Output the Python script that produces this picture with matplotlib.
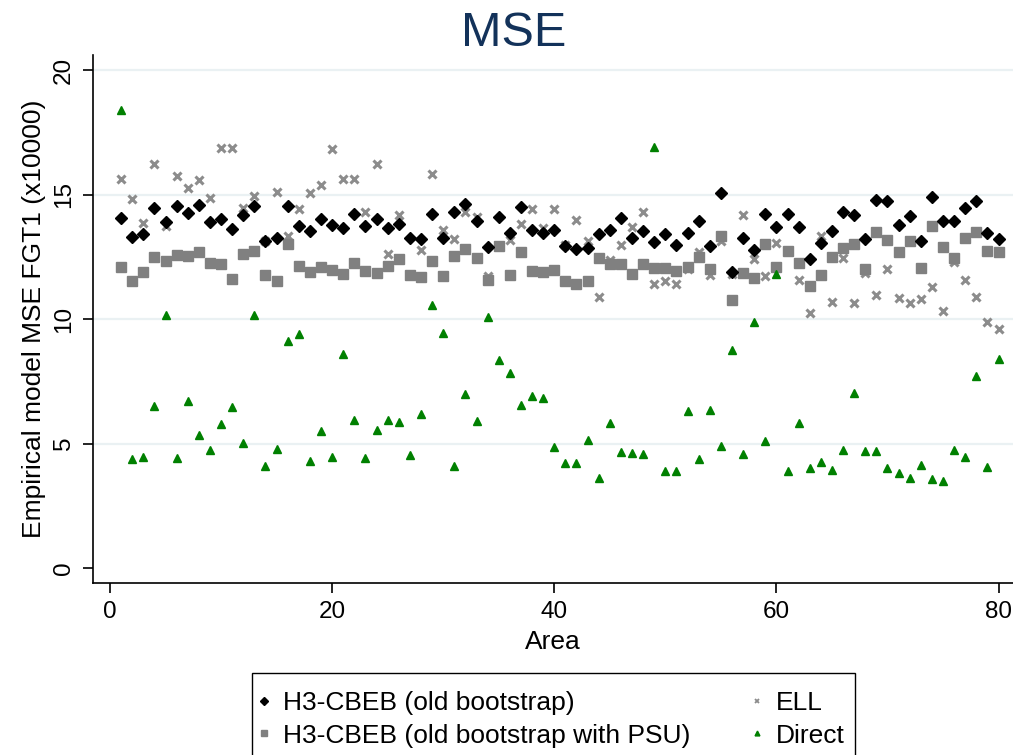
import numpy as np
import matplotlib
matplotlib.use("Agg")
import matplotlib.pyplot as plt
from matplotlib.patches import Rectangle

plt.rcParams['font.family'] = ['Liberation Sans', 'DejaVu Sans']

area = np.arange(1, 81)

# H3-CBEB (old bootstrap)
cbeb = [14.07, 13.28, 13.41, 14.48, 13.88, 14.54, 14.26, 14.58, 13.88, 14.03,
        13.63, 14.19, 14.54, 13.15, 13.24, 14.54, 13.75, 13.52, 14.03, 13.77,
        13.64, 14.23, 13.72, 14.00, 13.67, 13.81, 13.24, 13.21, 14.22, 13.27,
        14.31, 14.62, 13.95, 12.89, 14.08, 13.45, 14.50, 13.57, 13.45, 13.59,
        12.95, 12.83, 12.84, 13.43, 13.56, 14.04, 13.25, 13.55, 13.08, 13.40,
        12.99, 13.45, 13.95, 12.92, 15.08, 11.88, 13.24, 12.77, 14.20, 13.68,
        14.22, 13.71, 12.41, 13.04, 13.52, 14.28, 14.17, 13.21, 14.78, 14.75,
        13.77, 14.15, 13.15, 14.92, 13.93, 13.93, 14.47, 14.74, 13.47, 13.21]

# H3-CBEB (old bootstrap with PSU)
cbeb_psu = [12.09, 11.53, 11.89, 12.49, 12.33, 12.57, 12.53, 12.69, 12.26, 12.21,
            11.61, 12.61, 12.73, 11.77, 11.54, 13.01, 12.13, 11.89, 12.09, 11.97,
            11.81, 12.25, 11.92, 11.86, 12.13, 12.41, 11.77, 11.70, 12.33, 11.73,
            12.53, 12.81, 12.45, 11.58, 12.95, 11.77, 12.69, 11.93, 11.89, 11.97,
            11.53, 11.41, 11.53, 12.45, 12.22, 12.22, 11.80, 12.21, 12.05, 12.05,
            11.93, 12.09, 12.51, 12.01, 13.35, 10.78, 11.85, 11.65, 13.03, 12.09,
            12.75, 12.25, 11.34, 11.77, 12.49, 12.87, 13.03, 12.02, 13.51, 13.19,
            12.71, 13.15, 12.05, 13.75, 12.91, 12.46, 13.25, 13.51, 12.73, 12.71]

# ELL
ell = [15.62, 14.84, 13.85, 16.23, 13.73, 15.76, 15.27, 15.59, 14.86, 16.86,
       16.86, 14.46, 14.94, 13.12, 15.12, 13.35, 14.40, 15.08, 15.40, 16.81,
       15.62, 15.62, 14.28, 16.22, 12.60, 14.16, 11.76, 12.79, 15.83, 13.57,
       13.21, 14.28, 14.11, 11.74, 12.95, 13.19, 13.83, 14.42, 13.65, 14.42,
       12.97, 13.99, 13.15, 10.89, 12.36, 12.97, 13.68, 14.28, 11.41, 11.52,
       11.40, 12.01, 12.68, 11.77, 13.15, 11.81, 14.17, 12.41, 11.74, 13.05,
       12.75, 11.58, 10.25, 13.35, 10.67, 12.44, 10.65, 11.85, 10.98, 12.02,
       10.85, 10.65, 10.81, 11.28, 10.33, 12.28, 11.57, 10.90, 9.87, 9.61]

# Direct
direct = [18.38, 4.38, 4.48, 6.51, 10.18, 4.41, 6.71, 5.36, 4.74, 5.80,
          6.47, 5.02, 10.18, 4.11, 4.78, 9.11, 9.42, 4.30, 5.50, 4.48,
          8.58, 5.95, 4.44, 5.53, 5.93, 5.87, 4.53, 6.20, 10.57, 9.46,
          4.10, 7.00, 5.92, 10.10, 8.34, 7.82, 6.56, 6.92, 6.83, 4.86,
          4.21, 4.22, 5.16, 3.63, 5.84, 4.68, 4.64, 4.60, 16.89, 3.90,
          3.90, 6.32, 4.40, 6.33, 4.90, 8.75, 4.60, 9.89, 5.12, 11.81,
          3.89, 5.81, 4.01, 4.25, 3.93, 4.74, 7.04, 4.69, 4.69, 4.01,
          3.82, 3.62, 4.14, 3.57, 3.50, 4.73, 4.46, 7.71, 4.06, 8.39]

W, H = 1013, 755
fig = plt.figure(figsize=(W / 100, H / 100), dpi=100)
ax = fig.add_axes([0.0918, 0.2278, 0.9082, 0.6992])

ax.plot(area, cbeb, 'D', color='black', ms=6.5, ls='none',
        label='H3-CBEB (old bootstrap)', zorder=4)
ax.plot(area, cbeb_psu, 's', color='#808080', ms=7, ls='none',
        label='H3-CBEB (old bootstrap with PSU)', zorder=3)
ax.plot(area, ell, 'x', color='#8c8c8c', ms=6, mew=2.2, ls='none',
        label='ELL', zorder=2)
ax.plot(area, direct, '^', color='#008000', ms=5.8, ls='none',
        label='Direct', zorder=5)

ax.set_xlim(-1.53, 81.3)
ax.set_ylim(-0.6, 20.6)
ax.set_xticks([0, 20, 40, 60, 80])
ax.set_yticks([0, 5, 10, 15, 20])
for v in [5, 10, 15, 20]:
    ax.axhline(v, color='#eaf1f3', lw=1.6, zorder=0)

for s in ['top', 'right']:
    ax.spines[s].set_visible(False)
for s in ['left', 'bottom']:
    ax.spines[s].set_linewidth(1.2)
ax.tick_params(axis='both', length=7, width=1.2, labelsize=17.5, pad=6)
plt.setp(ax.get_yticklabels(), rotation=90, va='center')

ax.set_xlabel('Area', fontsize=19, labelpad=5)
ax.set_ylabel('Empirical model MSE FGT1 (x10000)', fontsize=19, labelpad=5)
fig.text(0.507, 1 - 34 / H, 'MSE', fontsize=35, color='#13325a',
         ha='center', va='center')

# legend box (bottom edge runs off the figure like the original)
fig.patches.append(Rectangle((252 / W, -0.01), (855 - 252) / W, 0.01 + 1 - 673 / H,
                             transform=fig.transFigure, fill=False,
                             edgecolor='black', lw=1.0, clip_on=False))
leg = fig.legend(loc='upper left', bbox_to_anchor=(257 / W, 1 - 691 / H),
                 ncol=2, fontsize=19, frameon=False, markerscale=0.6,
                 handlelength=0.5, handletextpad=0.47, columnspacing=2.3,
                 borderpad=0, borderaxespad=0, labelspacing=0.33)
leg.legend_handles[2].set_markeredgewidth(1.3)

plt.savefig('out.png', dpi=100)
